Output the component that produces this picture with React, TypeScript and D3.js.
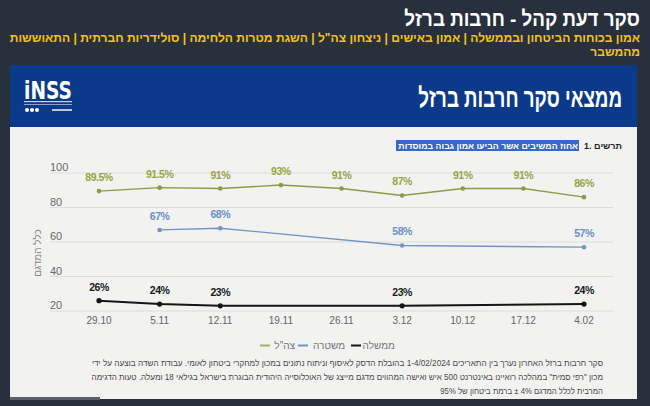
import React, { useLayoutEffect, useRef, useState } from "react";
import * as d3 from "d3";

const dates = ["29.10", "5.11", "12.11", "19.11", "26.11", "3.12", "10.12", "17.12", "4.02"];
const idf = [89.5, 91.5, 91, 93, 91, 87, 91, 91, 86];
const police = [null, 67, 68, null, null, 58, null, null, 57];
const gov = [26, 24, 23, null, null, 23, null, null, 24];
const yTicks = [20, 40, 60, 80, 100];
const idfLabels = ["89.5%", "91.5%", "91%", "93%", "91%", "87%", "91%", "91%", "86%"];

const W = 650, H = 406;
const FONT = "'Liberation Sans', 'DejaVu Sans', sans-serif";

type S = { name: string; values: (number | null)[]; color: string; labelColor: string; width: number; r: number };
const series: S[] = [
  { name: "צה\"ל", values: idf, color: "#8e9a45", labelColor: "#97a548", width: 1.4, r: 2.3 },
  { name: "משטרה", values: police, color: "#7494c4", labelColor: "#6b8fc9", width: 1.4, r: 2.3 },
  { name: "ממשלה", values: gov, color: "#151515", labelColor: "#1a1a1a", width: 2, r: 2.6 },
];

function FitText(props: { x: number; y: number; width: number; children: string; [k: string]: any }) {
  const { x, y, width, children, ...rest } = props;
  const ref = useRef<SVGTextElement>(null);
  const [s, setS] = useState(1);
  useLayoutEffect(() => {
    if (ref.current) {
      const w = ref.current.getComputedTextLength();
      if (w > 0) setS(width / w);
    }
  }, [width, children]);
  return (
    <text ref={ref} transform={`translate(${x},${y}) scale(${s},1)`} x={0} y={0} direction="rtl" textAnchor="start" {...rest}>
      {children}
    </text>
  );
}

export default function App() {
  const x = d3.scalePoint<string>().domain(dates).range([99, 584]);
  const y = d3.scaleLinear().domain([20, 100]).range([311, 173]);
  const line = d3.line<[number, number]>().x((d) => d[0]).y((d) => d[1]);

  const legendItems = [
    { name: "ממשלה", color: "#151515", right: 395, w: 30 },
    { name: "משטרה", color: "#7494c4", right: 345, w: 33 },
    { name: "צה\"ל", color: "#a9ad6a", right: 295, w: 21 },
  ];

  return (
    <svg width={W} height={H} style={{ position: "absolute", left: 0, top: 0 }} fontFamily={FONT}>
      <rect x={0} y={0} width={W} height={H} fill="#29303d" />
      {/* top titles */}
      <FitText x={640} y={26} width={236} fill="#ffffff" fontSize={21} fontWeight={700}>סקר דעת קהל - חרבות ברזל</FitText>
      <FitText x={640} y={42} width={631} fill="#f3c21c" fontSize={12} fontWeight={700}>אמון בכוחות הביטחון ובממשלה | אמון באישים | ניצחון צה"ל | השגת מטרות הלחימה | סולידריות חברתית | התאוששות</FitText>
      <text x={640} y={56} textAnchor="end" fill="#f3c21c" fontSize={12} fontWeight={700}>מהמשבר</text>

      {/* panel */}
      <rect x={10} y={65} width={627} height={334} fill="#f2f2f0" />
      <rect x={10} y={65} width={627} height={62} fill="#0b3a8a" />
      <FitText x={622} y={107} width={204} fill="#ffffff" fontSize={27} fontWeight={700}>ממצאי סקר חרבות ברזל</FitText>
      {/* logo */}
      <g>
        <text x={24} y={99} fill="#ffffff" fontSize={25} fontWeight={700} fontFamily="'DejaVu Sans', sans-serif"
          textLength={48} lengthAdjust="spacingAndGlyphs">iNSS</text>
        <rect x={24} y={101} width={48} height={1.2} fill="#c9d3e8" />
        <rect x={24} y={104} width={48} height={1} fill="#8fa2c8" />
        <circle cx={27} cy={110} r={2} fill="#ffffff" />
        <circle cx={32} cy={110} r={2} fill="#ffffff" />
        <circle cx={37} cy={110} r={2} fill="#ffffff" />
        <rect x={52} y={109} width={20} height={2} fill="#b8c4de" />
      </g>

      {/* caption */}
      <rect x={396} y={140} width={183} height={11} fill="#3767c8" />
      <text x={622} y={149} textAnchor="end" fill="#222" fontSize={9} fontWeight={700}>1. תרשים</text>
      <FitText x={578} y={149} width={180} fill="#ffffff" fontSize={9} fontWeight={700}>אחוז המשיבים אשר הביעו אמון גבוה במוסדות</FitText>

      {/* grid */}
      {yTicks.map((t) => (
        <g key={t}>
          <line x1={50} x2={613} y1={y(t)} y2={y(t)} stroke="#dcdcdc" strokeWidth={1} />
          <text x={50} y={y(t) - 2} fill="#6a6a6a" fontSize={11}>{t}</text>
        </g>
      ))}
      <text transform="translate(41,253) rotate(-90)" textAnchor="middle" fill="#8a8a8a" fontSize={10}>כלל המדגם</text>

      {dates.map((d) => (
        <text key={d} x={x(d)} y={324} textAnchor="middle" fill="#666" fontSize={10}>{d}</text>
      ))}

      {series.map((s) => {
        const pts: [number, number][] = [];
        s.values.forEach((v, i) => { if (v != null) pts.push([x(dates[i]) as number, y(v)]); });
        return (
          <g key={s.name}>
            <path d={line(pts) || ""} fill="none" stroke={s.color} strokeWidth={s.width} />
            {pts.map((p, i) => <circle key={i} cx={p[0]} cy={p[1]} r={s.r} fill={s.color} />)}
          </g>
        );
      })}
      {series.map((s) =>
        s.values.map((v, i) => v == null ? null : (
          <text key={s.name + i} x={x(dates[i])} y={y(v) - 10} textAnchor="middle" fill={s.labelColor}
            fontSize={10.5} fontWeight={700} letterSpacing={-0.5}>
            {s.name === "צה\"ל" ? idfLabels[i] : `${v}%`}
          </text>
        ))
      )}

      {/* legend */}
      {legendItems.map((it) => (
        <g key={it.name}>
          <text x={it.right} y={349} textAnchor="end" fill="#777" fontSize={10}>{it.name}</text>
          <line x1={it.right - it.w - 14} x2={it.right - it.w - 4} y1={345.5} y2={345.5} stroke={it.color} strokeWidth={2} />
        </g>
      ))}

      {/* footnote */}
      <g fill="#4a4a4a">
        <FitText x={603} y={366} width={512} fontSize={8.5}>סקר חרבות ברזל האחרון נערך בין התאריכים 1-4/02/2024 בהובלת הדסק לאיסוף וניתוח נתונים במכון למחקרי ביטחון לאומי. עבודת השדה בוצעה על ידי</FitText>
        <FitText x={603} y={380} width={512} fontSize={8.5}>מכון "רפי סמית" במהלכה רואיינו באינטרנט 500 איש ואישה המהווים מדגם מייצג של האוכלוסייה היהודית הבוגרת בישראל בגילאי 18 ומעלה. טעות הדגימה</FitText>
        <FitText x={603} y={394} width={163} fontSize={8.5}>המרבית לכלל המדגם 4% ± ברמת ביטחון של 95%</FitText>
      </g>
      <rect x={10} y={397} width={90} height={3} fill="#5a5f68" />
    </svg>
  );
}
